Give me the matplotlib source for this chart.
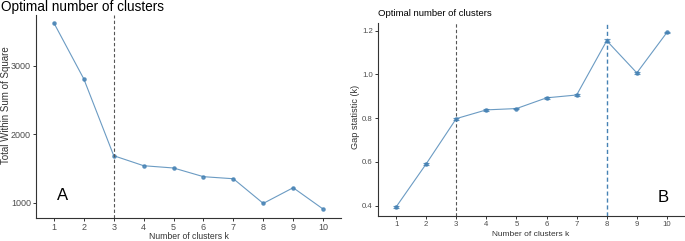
import numpy as np
import matplotlib
matplotlib.use("Agg")
import matplotlib.pyplot as plt

plt.rcParams['font.family'] = ['Liberation Sans', 'DejaVu Sans']

# ---------- Data ----------
k = [1, 2, 3, 4, 5, 6, 7, 8, 9, 10]
wss = [3623, 2806, 1686, 1540, 1507, 1380, 1350, 990, 1219, 908]
gap = [0.394, 0.591, 0.798, 0.838, 0.844, 0.893, 0.906, 1.154, 1.007, 1.192]
gap_se = [0.004, 0.005, 0.005, 0.004, 0.004, 0.004, 0.005, 0.006, 0.004, 0.004]
k_elbow = 3
k_gap = 8

line_col = "steelblue"
tick_col = "#4D4D4D"

W, H = 685, 241
fig = plt.figure(figsize=(W / 100, H / 100), dpi=100)


def px_axes(left, top, right, bottom):
    return fig.add_axes([left / W, 1 - bottom / H, (right - left) / W, (bottom - top) / H])


def style(ax, tick_size):
    for s in ['top', 'right']:
        ax.spines[s].set_visible(False)
    for s in ['left', 'bottom']:
        ax.spines[s].set_color("#333333")
        ax.spines[s].set_linewidth(0.8)
    ax.tick_params(colors="#333333", labelcolor=tick_col, labelsize=tick_size,
                   length=2.5, width=0.7, pad=1.2)
    ax.set_xticks(k)
    ax.set_xlim(0.4, 10.6)


# ---------- Panel A: elbow ----------
ax1 = px_axes(36, 15, 341, 218)
ax1.plot(k, wss, color=line_col, lw=0.8, alpha=0.8, marker='o', ms=2.3,
         mfc=line_col, mec=line_col)
ax1.axvline(k_elbow, color="#555555", ls=(0, (3, 2)), lw=0.8)
ax1.set_ylim(777, 3740)
ax1.set_yticks([1000, 2000, 3000])
style(ax1, 6.5)
ax1.text(0.07, 0.09, "A", transform=ax1.transAxes, fontsize=12, color="black")

fig.text(1 / W, 1 - 6.5 / H, "Optimal number of clusters", fontsize=9.8, va='center', ha='left')
fig.text(189 / W, 1 - 236.5 / H, "Number of clusters k", fontsize=6.2, va='center',
         ha='center', color="#333333")
fig.text(6 / W, 1 - 105 / H, "Total Within Sum of Square", fontsize=7.0, va='center',
         ha='center', rotation=90, color="#333333")

# ---------- Panel B: gap statistic ----------
ax2 = px_axes(378, 23, 685, 216)
ax2.errorbar(k, gap, yerr=gap_se, color=line_col, lw=0.8, alpha=0.8,
             elinewidth=0.8, capsize=2.5, capthick=0.8,
             marker='o', ms=2.3, mfc=line_col, mec=line_col)
ax2.axvline(k_elbow, color="#555555", ls=(0, (3, 2)), lw=0.8)
ax2.axvline(k_gap, color=line_col, ls=(0, (3, 2)), lw=1.0)
ax2.set_ylim(0.353, 1.235)
ax2.set_yticks([0.4, 0.6, 0.8, 1.0, 1.2])
ax2.set_yticklabels(["0.4", "0.6", "0.8", "1.0", "1.2"])
style(ax2, 5.6)
ax2.text(0.91, 0.07, "B", transform=ax2.transAxes, fontsize=12, color="black")

fig.text(378 / W, 1 - 14 / H, "Optimal number of clusters", fontsize=6.8, va='center',
         ha='left')
fig.text(531 / W, 1 - 235 / H, "Number of clusters k", fontsize=6, va='center',
         ha='center', color="#333333")
fig.text(355 / W, 1 - 117 / H, "Gap statistic (k)", fontsize=6.6, va='center',
         ha='center', rotation=90, color="#333333")

fig.savefig("out.png", dpi=100)
